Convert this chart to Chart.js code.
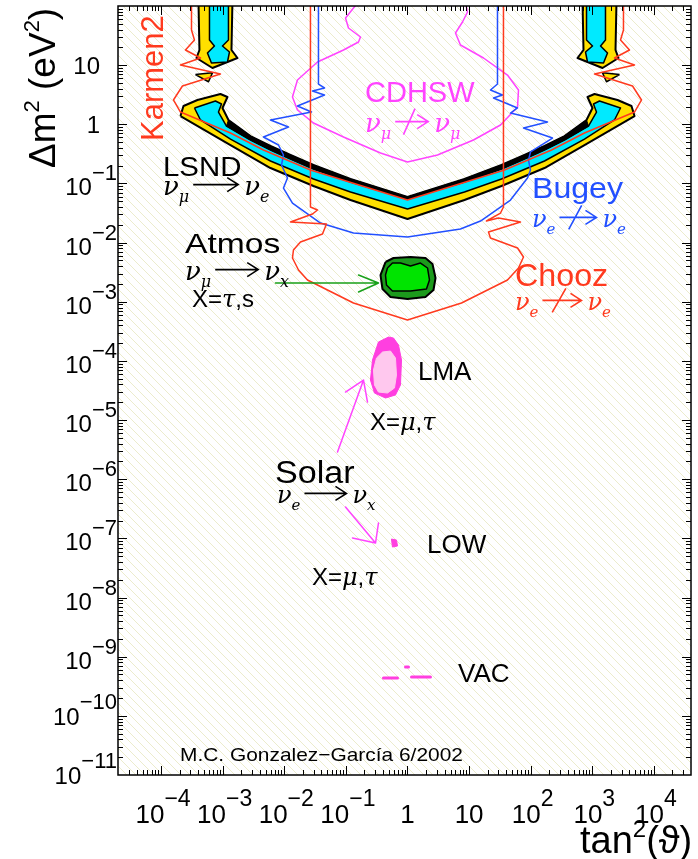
<!DOCTYPE html>
<html>
<head>
<meta charset="utf-8">
<script src="https://cdn.jsdelivr.net/npm/chart.js@4.4.0/dist/chart.umd.min.js"></script>
<style>
  html, body { margin: 0; padding: 0; background: #fff; }
  #wrap { width: 698px; height: 859px; position: relative; }
</style>
</head>
<body>
<div id="wrap"><canvas id="plot"></canvas></div>
<script>
// axis ranges
const xRange = [2e-5, 4e4];   // tan^2(theta)
const yRange = [1e-11, 1e2];  // delta m^2 in eV^2
const xTickExps = [-4, -3, -2, -1, 0, 1, 2, 3, 4];
const yTickExps = [1, 0, -1, -2, -3, -4, -5, -6, -7, -8, -9, -10, -11];

// contours, as [log10 tan^2, log10 dm^2]
const lsndOuter = [[-3.685,0.140],[-3.636,0.309],[-3.409,0.411],[-3.036,0.512],[-2.922,0.462],[-3.003,0.276],[-2.906,0.073],[-2.549,-0.198],[-2.224,-0.367],[-1.899,-0.519],[-1.526,-0.688],[-0.925,-0.925],[0,-1.229],[0.925,-0.925],[1.526,-0.688],[1.899,-0.519],[2.224,-0.367],[2.549,-0.198],[2.906,0.073],[3.003,0.276],[2.922,0.462],[3.036,0.512],[3.409,0.411],[3.636,0.309],[3.685,0.140],[2.873,-0.350],[2.224,-0.739],[1.526,-1.043],[0.925,-1.280],[0,-1.601],[-0.925,-1.280],[-1.526,-1.043],[-2.224,-0.739],[-2.873,-0.350]];
const lsndInner = [[-3.458,0.276],[-3.117,0.394],[-3.019,0.343],[-3.068,0.208],[-2.938,-0.029],[-2.549,-0.265],[-2.224,-0.434],[-1.899,-0.587],[-1.526,-0.756],[-0.925,-0.975],[0,-1.263],[0.925,-0.975],[1.526,-0.756],[1.899,-0.587],[2.224,-0.434],[2.549,-0.265],[2.938,-0.029],[3.068,0.208],[3.019,0.343],[3.117,0.394],[3.458,0.276],[3.360,0.073],[2.873,-0.249],[2.224,-0.620],[1.526,-0.925],[0.925,-1.145],[0,-1.432],[-0.925,-1.145],[-1.526,-0.925],[-2.224,-0.620],[-2.873,-0.249],[-3.360,0.073]];
const lsndDarkLeft = [[-2.906,0.073],[-2.549,-0.198],[-2.224,-0.367],[-1.899,-0.519],[-1.526,-0.688],[-0.925,-0.925],[0,-1.229],[0,-1.263],[-0.925,-0.975],[-1.526,-0.756],[-1.899,-0.587],[-2.224,-0.434],[-2.549,-0.265],[-2.938,-0.029]];
const lsndDarkRight = [[2.906,0.073],[2.549,-0.198],[2.224,-0.367],[1.899,-0.519],[1.526,-0.688],[0.925,-0.925],[0,-1.229],[0,-1.263],[0.925,-0.975],[1.526,-0.756],[1.899,-0.587],[2.224,-0.434],[2.549,-0.265],[2.938,-0.029]];
const lsndTopLeftOuter = [[-3.393,2.1],[-2.841,2.1],[-2.857,1.256],[-2.760,1.121],[-3.166,0.952],[-3.425,1.121],[-3.377,1.256]];
const lsndTopLeftInner = [[-3.214,2.1],[-2.906,2.1],[-2.906,1.425],[-3.003,1.324],[-2.890,1.222],[-2.922,1.053],[-3.182,1.036],[-3.247,1.205],[-3.134,1.324],[-3.214,1.425]];
const lsndTopRightOuter = [[3.393,2.1],[2.841,2.1],[2.857,1.256],[2.760,1.121],[3.166,0.952],[3.425,1.121],[3.377,1.256]];
const lsndTopRightInner = [[3.214,2.1],[2.906,2.1],[2.906,1.425],[3.003,1.324],[2.890,1.222],[2.922,1.053],[3.182,1.036],[3.247,1.205],[3.134,1.324],[3.214,1.425]];
const lsndBitLeft = [[-3.442,0.84],[-3.166,0.87],[-3.230,0.72]];
const lsndBitRight = [[3.442,0.84],[3.166,0.87],[3.230,0.72]];

const karmen = [[-3.506,2.1],[-3.506,1.594],[-3.458,1.425],[-3.604,1.256],[-3.360,1.121],[-3.685,1.003],[-3.036,0.850],[-3.653,0.648],[-3.799,0.411],[-3.685,0.208],[-2.873,-0.147],[-2.338,-0.434],[-1.575,-0.773],[0,-1.280],[1.575,-0.773],[2.338,-0.434],[2.873,-0.147],[3.685,0.208],[3.799,0.411],[3.653,0.648],[3.036,0.850],[3.685,1.003],[3.360,1.121],[3.604,1.256],[3.458,1.425],[3.506,1.594],[3.506,2.1]];
const chooz = [[-1.575,2.1],[-1.575,-1.398],[-1.461,-1.449],[-1.542,-1.516],[-1.899,-1.652],[-1.315,-1.686],[-1.380,-1.855],[-1.737,-1.990],[-1.851,-2.125],[-1.867,-2.260],[-1.769,-2.463],[-1.623,-2.632],[-0.877,-3.021],[0,-3.309],[0.877,-3.021],[1.623,-2.632],[1.802,-2.429],[1.883,-2.243],[1.786,-2.091],[1.347,-1.922],[1.315,-1.821],[1.834,-1.652],[1.477,-1.584],[1.282,-1.635],[1.510,-1.500],[1.558,-1.398],[1.558,2.1]];
const bugey = [[-1.445,2.1],[-1.445,0.681],[-1.347,0.614],[-1.542,0.563],[-1.347,0.495],[-1.786,0.309],[-1.558,0.208],[-2.224,0.073],[-1.932,-0.046],[-2.338,-0.215],[-2.094,-0.350],[-2.013,-0.519],[-2.045,-0.688],[-1.948,-0.908],[-2.013,-1.077],[-1.867,-1.331],[-1.412,-1.669],[-0.877,-1.838],[0,-1.905],[0.860,-1.770],[1.185,-1.635],[1.672,-1.280],[1.948,-0.908],[1.997,-0.773],[1.964,-0.604],[1.997,-0.468],[2.354,-0.232],[1.883,-0.063],[2.273,0.039],[1.672,0.191],[1.786,0.276],[1.396,0.445],[1.542,0.495],[1.347,0.580],[1.461,0.681],[1.461,2.1]];
const cdhsw = [[-0.812,2.05],[-1.006,1.797],[-0.958,1.628],[-0.763,1.476],[-0.795,1.391],[-1.039,1.256],[-1.461,1.053],[-1.786,0.749],[-1.867,0.462],[-1.786,0.242],[-1.526,0.022],[-1.039,-0.215],[-0.438,-0.485],[0,-0.637],[0.487,-0.519],[1.071,-0.265],[1.510,-0.012],[1.786,0.293],[1.802,0.580],[1.623,0.833],[1.234,1.121],[0.860,1.341],[0.779,1.544],[0.893,1.730],[0.974,1.899],[0.942,2.05]];

const atmosOuter = [[-0.357,-2.328],[-0.227,-2.260],[0.049,-2.243],[0.292,-2.260],[0.406,-2.362],[0.455,-2.598],[0.422,-2.801],[0.292,-2.920],[0,-2.953],[-0.276,-2.920],[-0.406,-2.784],[-0.438,-2.548]];
const atmosInner = [[-0.325,-2.429],[-0.244,-2.345],[-0.114,-2.345],[0.049,-2.396],[0.211,-2.345],[0.325,-2.429],[0.357,-2.632],[0.308,-2.784],[0.049,-2.818],[-0.244,-2.818],[-0.341,-2.717],[-0.357,-2.548]];
const atmosArrow = [[-2.143,-2.683],[-0.471,-2.683],[-0.795,-2.548],[-0.471,-2.683],[-0.795,-2.835]];

const lmaOuter = [[-0.308,-3.596],[-0.471,-3.680],[-0.568,-3.985],[-0.601,-4.323],[-0.536,-4.543],[-0.357,-4.627],[-0.195,-4.576],[-0.114,-4.407],[-0.097,-3.985],[-0.146,-3.731],[-0.227,-3.613]];
const lmaInner = [[-0.406,-3.850],[-0.276,-3.833],[-0.195,-3.951],[-0.179,-4.238],[-0.211,-4.458],[-0.325,-4.543],[-0.471,-4.526],[-0.536,-4.407],[-0.552,-4.154],[-0.503,-3.951]];
const lowRegion = [[-0.260,-7.011],[-0.179,-7.028],[-0.162,-7.129],[-0.244,-7.146]];
const vacBits = [
  [[-0.390,-9.361],[-0.162,-9.361]],
  [[-0.032,-9.175],[0.016,-9.175]],
  [[0.065,-9.344],[0.373,-9.344]]
];
const solarUpArrow = [[-1.136,-5.540],[-0.714,-4.323],[-1.006,-4.526],[-0.714,-4.323],[-0.649,-4.695]];
const solarDownArrow = [[-1.006,-6.470],[-0.519,-7.079],[-0.893,-6.994],[-0.519,-7.079],[-0.471,-6.740]];

const RED = '#ff3a1e', BLUE = '#2250ff', MAG = '#ff44ff', SOLAR = '#ff3fe0';
const FONT = '"Liberation Sans", Arial, sans-serif';
const GREEK = '"DejaVu Serif", serif';

const toXY = (pairs) => pairs.map(([a, b]) => ({ x: 10 ** a, y: 10 ** b }));

function curve(pairs, color, width, order) {
  return { data: toXY(pairs), borderColor: color, borderWidth: width, pointRadius: 0,
    fill: false, order, tension: 0, borderJoinStyle: 'round', borderCapStyle: 'round' };
}
function region(pairs, fillColor, edgeColor, width, order) {
  return { data: toXY(pairs.concat([pairs[0]])), backgroundColor: fillColor, borderColor: edgeColor,
    borderWidth: width, pointRadius: 0, fill: 'shape', order, tension: 0, borderJoinStyle: 'round' };
}

const datasets = [
  region(lsndOuter, '#ffe000', '#000', 2, 40),
  region(lsndInner, '#00eaff', '#000', 1.5, 39),
  region(lsndDarkLeft, '#000', '#000', 1, 38),
  region(lsndDarkRight, '#000', '#000', 1, 38),
  region(lsndTopLeftOuter, '#ffe000', '#000', 2, 37),
  region(lsndTopLeftInner, '#00eaff', '#000', 1.5, 36),
  region(lsndTopRightOuter, '#ffe000', '#000', 2, 37),
  region(lsndTopRightInner, '#00eaff', '#000', 1.5, 36),
  region(lsndBitLeft, '#ffe000', '#000', 1.5, 37),
  region(lsndBitRight, '#ffe000', '#000', 1.5, 37),
  curve(cdhsw, MAG, 1.5, 30),
  curve(bugey, BLUE, 1.5, 29),
  curve(chooz, RED, 1.5, 28),
  curve(karmen, RED, 1.5, 27),
  region(atmosOuter, '#1c9a1c', '#000', 2, 20),
  region(atmosInner, '#00e400', '#000', 1.5, 19),
  curve(atmosArrow, '#18a018', 1.5, 18),
  region(lmaOuter, SOLAR, SOLAR, 1, 10),
  region(lmaInner, '#ffc8ee', '#ffc8ee', 1, 9),
  region(lowRegion, SOLAR, SOLAR, 1, 8),
  curve(solarUpArrow, MAG, 1.5, 7),
  curve(solarDownArrow, MAG, 1.5, 7),
  ...vacBits.map((b) => curve(b, SOLAR, 3, 6))
];

// pale diagonal hatching behind the plot
const hatch = {
  id: 'hatch',
  beforeDatasetsDraw(chart) {
    const { ctx, chartArea: a } = chart;
    ctx.save();
    ctx.fillStyle = '#fff';
    ctx.fillRect(a.left, a.top, a.width, a.height);
    ctx.beginPath();
    ctx.rect(a.left, a.top, a.width, a.height);
    ctx.clip();
    ctx.strokeStyle = '#ececcc';
    ctx.lineWidth = 1;
    ctx.beginPath();
    for (let s = a.left - a.height; s < a.right; s += 9) {
      ctx.moveTo(s, a.top);
      ctx.lineTo(s + a.height, a.bottom);
    }
    ctx.stroke();
    ctx.restore();
  }
};

// frame with inward log ticks on all four sides
const frame = {
  id: 'frame',
  afterDatasetsDraw(chart) {
    const { ctx, chartArea: a, scales: { x, y } } = chart;
    ctx.save();
    ctx.strokeStyle = '#000';
    ctx.lineWidth = 1;
    ctx.beginPath();
    for (let e = -5; e <= 4; e++) {
      for (let m = 1; m <= 9; m++) {
        const v = m * 10 ** e;
        if (v <= xRange[0] || v >= xRange[1]) continue;
        const p = Math.round(x.getPixelForValue(v)) + 0.5;
        const len = m === 1 ? 9 : 5;
        ctx.moveTo(p, a.bottom); ctx.lineTo(p, a.bottom - len);
        ctx.moveTo(p, a.top); ctx.lineTo(p, a.top + len);
      }
    }
    for (let e = -12; e <= 2; e++) {
      for (let m = 1; m <= 9; m++) {
        const v = m * 10 ** e;
        if (v <= yRange[0] || v >= yRange[1]) continue;
        const p = Math.round(y.getPixelForValue(v)) + 0.5;
        const len = m === 1 ? 9 : 5;
        ctx.moveTo(a.left, p); ctx.lineTo(a.left + len, p);
        ctx.moveTo(a.right, p); ctx.lineTo(a.right - len, p);
      }
    }
    ctx.stroke();
    ctx.lineWidth = 1.5;
    ctx.strokeRect(a.left, a.top, a.width, a.height);
    ctx.restore();
  }
};

// draws a run of [text, font, dy] pieces from x along baseline y
function run(ctx, x, y, parts) {
  for (const [t, f, dy] of parts) {
    ctx.font = f;
    ctx.fillText(t, x, y + (dy || 0));
    x += ctx.measureText(t).width;
  }
  return x;
}

// text widened horizontally to look like the original plot font
function wide(ctx, t, x, y, font, sx) {
  ctx.save();
  ctx.font = font;
  ctx.translate(x, y);
  ctx.scale(sx, 1);
  ctx.fillText(t, 0, 0);
  ctx.restore();
}

function reaction(ctx, x, y, size, color, sub1, sub2, crossed, arrowLen) {
  ctx.fillStyle = color;
  ctx.strokeStyle = color;
  const nu = `italic ${size}px ${GREEK}`;
  const sub = `italic ${Math.round(size * 0.62)}px ${GREEK}`;
  x = run(ctx, x, y, [['ν', nu], [sub1, sub, size * 0.28]]) + 4;
  const ay = y - size * 0.4;
  ctx.lineWidth = 1.6;
  ctx.beginPath();
  ctx.moveTo(x, ay); ctx.lineTo(x + arrowLen, ay);
  ctx.moveTo(x + arrowLen - 11, ay - 7); ctx.lineTo(x + arrowLen, ay); ctx.lineTo(x + arrowLen - 11, ay + 7);
  if (crossed) {
    ctx.moveTo(x + arrowLen * 0.25, ay + size * 0.5);
    ctx.lineTo(x + arrowLen * 0.6, ay - size * 0.5);
  }
  ctx.stroke();
  run(ctx, x + arrowLen + 6, y, [['ν', nu], [sub2, sub, size * 0.28]]);
}

const labels = {
  id: 'labels',
  afterDraw(chart) {
    const { ctx, scales: { x, y } } = chart;
    ctx.save();
    ctx.textBaseline = 'alphabetic';
    ctx.fillStyle = '#000';

    // y tick labels
    for (const e of yTickExps) {
      const p = y.getPixelForValue(10 ** e);
      ctx.textAlign = 'right';
      if (e >= 0) {
        ctx.font = `24px ${FONT}`;
        ctx.fillText(e === 1 ? '10' : '1', 100, p + 9);
      } else {
        const sup = '\u2212' + (-e);
        ctx.font = `22px ${FONT}`;
        ctx.fillText(sup, 117, e <= -10 ? p - 7 : p - 3);
        const w = ctx.measureText(sup).width;
        ctx.font = `24px ${FONT}`;
        ctx.fillText('10', 117 - w, e <= -10 ? p + 9 : p + 12);
      }
    }

    // x tick labels
    ctx.textAlign = 'left';
    for (const e of xTickExps) {
      const p = x.getPixelForValue(10 ** e);
      ctx.font = `26px ${FONT}`;
      if (e === 0 || e === 1) {
        const t = e === 0 ? '1' : '10';
        ctx.fillText(t, p - ctx.measureText(t).width / 2, 823);
      } else {
        const sup = e < 0 ? '\u2212' + (-e) : String(e);
        const w1 = ctx.measureText('10').width;
        ctx.font = `23px ${FONT}`;
        const w2 = ctx.measureText(sup).width;
        const s = p - (w1 + w2) / 2 + 2;
        ctx.fillText(sup, s + w1, 806);
        ctx.font = `26px ${FONT}`;
        ctx.fillText('10', s, 823);
      }
    }

    // axis titles
    run(ctx, 580, 853, [['tan', `38px ${FONT}`], ['2', `24px ${FONT}`, -16], ['(ϑ)', `38px ${FONT}`]]);
    ctx.save();
    ctx.translate(55, 168);
    ctx.rotate(-Math.PI / 2);
    run(ctx, 0, 0, [['Δm', `37px ${FONT}`], ['2', `22px ${FONT}`, -16], [' (eV', `37px ${FONT}`], ['2', `22px ${FONT}`, -16], [')', `37px ${FONT}`]]);
    ctx.restore();

    // experiment names
    ctx.save();
    ctx.fillStyle = RED;
    ctx.font = `31px ${FONT}`;
    ctx.translate(163, 141);
    ctx.rotate(-Math.PI / 2);
    ctx.fillText('Karmen2', 0, 0);
    ctx.restore();

    ctx.fillStyle = '#000';
    wide(ctx, 'LSND', 163, 176, `28px ${FONT}`, 1.05);
    reaction(ctx, 163, 195, 26, '#000', 'μ', 'e', false, 45);

    ctx.fillStyle = '#000';
    wide(ctx, 'Atmos', 185, 253, `28px ${FONT}`, 1.2);
    reaction(ctx, 185, 280, 26, '#000', 'μ', 'x', false, 43);
    ctx.fillStyle = '#000';
    run(ctx, 192, 307, [['X=', `24px ${FONT}`], ['τ', `italic 24px ${GREEK}`], [',s', `24px ${FONT}`]]);

    ctx.fillStyle = MAG;
    ctx.font = `29px ${FONT}`;
    ctx.fillText('CDHSW', 365, 102);
    reaction(ctx, 365, 132, 26, MAG, 'μ', 'μ', true, 33);

    ctx.fillStyle = BLUE;
    wide(ctx, 'Bugey', 532, 198, `30px ${FONT}`, 1.07);
    reaction(ctx, 532, 227, 24, BLUE, 'e', 'e', true, 37);

    ctx.fillStyle = RED;
    wide(ctx, 'Chooz', 515, 286, `31px ${FONT}`, 1.04);
    reaction(ctx, 515, 310, 24, RED, 'e', 'e', true, 39);

    ctx.fillStyle = '#000';
    ctx.font = `26px ${FONT}`;
    ctx.fillText('LMA', 418, 380);
    ctx.fillText('LOW', 427, 553);
    ctx.fillText('VAC', 458, 682);
    run(ctx, 370, 430, [['X=', `24px ${FONT}`], ['μ', `italic 24px ${GREEK}`], [',', `24px ${FONT}`], ['τ', `italic 24px ${GREEK}`]]);
    run(ctx, 312, 585, [['X=', `24px ${FONT}`], ['μ', `italic 24px ${GREEK}`], [',', `24px ${FONT}`], ['τ', `italic 24px ${GREEK}`]]);
    wide(ctx, 'Solar', 275, 483, `31px ${FONT}`, 1.1);
    reaction(ctx, 277, 503, 24, '#000', 'e', 'x', false, 42);

    ctx.fillStyle = '#000';
    wide(ctx, 'M.C. Gonzalez\u2212García 6/2002', 180, 761, `19px ${FONT}`, 1.1);
    ctx.restore();
  }
};

new Chart(document.getElementById('plot'), {
  type: 'line',
  data: { datasets },
  options: {
    responsive: true,
    maintainAspectRatio: false,
    animation: false,
    layout: { padding: { left: 118, right: 7, top: 6, bottom: 84 } },
    plugins: { legend: { display: false }, tooltip: { enabled: false } },
    scales: {
      x: { type: 'logarithmic', min: xRange[0], max: xRange[1], display: false },
      y: { type: 'logarithmic', min: yRange[0], max: yRange[1], display: false }
    }
  },
  plugins: [hatch, frame, labels]
});
</script>
</body>
</html>
